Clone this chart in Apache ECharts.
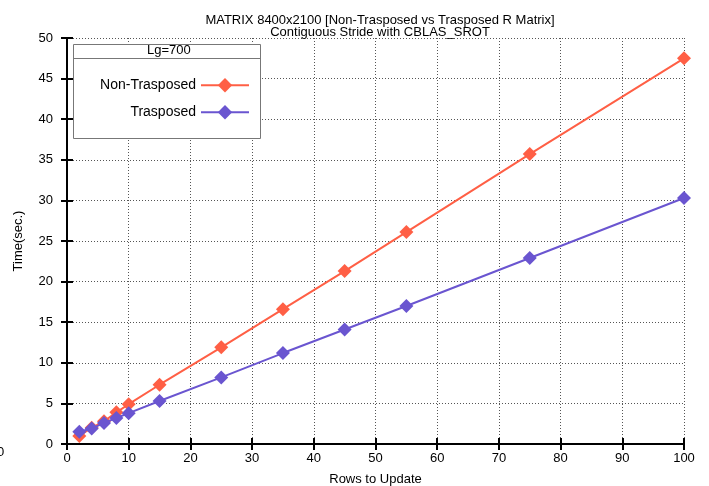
<!DOCTYPE html>
<html>
<head>
<meta charset="utf-8">
<script src="https://cdn.jsdelivr.net/npm/echarts@6/dist/echarts.min.js"></script>
<style>
  html, body { margin: 0; padding: 0; background: #fff; }
  #chart { width: 709px; height: 486px; }
</style>
</head>
<body>
<div id="chart"></div>
<script>
// rows to update (x) and timings in seconds
var rows = [2, 4, 6, 8, 10, 15, 25, 35, 45, 55, 75, 100];
var nonTrasposed = [1.0, 2.0, 2.8, 3.9, 4.9, 7.3, 11.9, 16.6, 21.3, 26.1, 35.7, 47.5];
var trasposed = [1.5, 1.9, 2.6, 3.2, 3.8, 5.3, 8.2, 11.2, 14.1, 17.0, 22.9, 30.3];
var seriesNames = ["Non-Trasposed", "Trasposed"];

var myChart = echarts.init(document.getElementById("chart"));

function pairs(xs, ys) {
  var out = [];
  for (var i = 0; i < xs.length; i++) out.push([xs[i], ys[i]]);
  return out;
}

var font = "Liberation Sans, Arial, sans-serif";

var gridLine = {
  show: true,
  lineStyle: { color: "#555", type: [1, 2], width: 1 }
};

function frameAxis(extra) {
  return Object.assign({
    type: "value",
    axisLine: { show: true, lineStyle: { color: "#000", width: 2 } },
    axisTick: { show: true, inside: true, length: 6, lineStyle: { color: "#000", width: 2 } },
    splitLine: { show: false },
    axisLabel: { show: false }
  }, extra);
}

var option = {
  animation: false,
  title: {
    text: "MATRIX 8400x2100 [Non-Trasposed vs Trasposed R Matrix]\nContiguous Stride with CBLAS_SROT",
    left: 375,
    top: 9,
    textAlign: "center",
    textStyle: { fontFamily: font, fontSize: 13, fontWeight: "normal", color: "#000", lineHeight: 12 }
  },
  grid: { left: 67, right: 25, top: 38, bottom: 42, outerBoundsMode: "none" },
  legend: [
    {
      data: [seriesNames[0]],
      right: 454, top: 73, z: 20,
      align: "right",
      itemWidth: 48, itemHeight: 18,
      textStyle: { fontFamily: font, fontSize: 14, color: "#000" }
    },
    {
      data: [seriesNames[1]],
      right: 454, top: 100, z: 20,
      align: "right",
      itemWidth: 48, itemHeight: 18,
      textStyle: { fontFamily: font, fontSize: 14, color: "#000" }
    }
  ],
  xAxis: [
    {
      type: "value", min: 0, max: 100, interval: 10,
      name: "Rows to Update", nameLocation: "middle", nameGap: 29,
      nameTextStyle: { fontFamily: font, fontSize: 13, color: "#000" },
      axisLine: { show: true, lineStyle: { color: "#000", width: 2 } },
      axisTick: { show: true, inside: true, length: 6, lineStyle: { color: "#000", width: 2 } },
      axisLabel: { color: "#000", fontFamily: font, fontSize: 13, margin: 8 },
      splitLine: gridLine
    },
    frameAxis({ position: "top", min: 0, max: 100, interval: 10 })
  ],
  yAxis: [
    {
      type: "value", min: 0, max: 50, interval: 5,
      name: "Time(sec.)", nameLocation: "middle", nameGap: 42, nameRotate: 90,
      nameTextStyle: { fontFamily: font, fontSize: 13, color: "#000" },
      axisLine: { show: true, lineStyle: { color: "#000", width: 2 } },
      axisTick: { show: true, inside: true, length: 6, lineStyle: { color: "#000", width: 2 } },
      axisLabel: { color: "#000", fontFamily: font, fontSize: 13, margin: 14 },
      splitLine: gridLine
    },
    frameAxis({ position: "right", min: 0, max: 50, interval: 5 })
  ],
  graphic: [
    {
      type: "rect", left: 73, top: 44, z: 10,
      shape: { width: 187, height: 94 },
      style: { fill: "#fff", stroke: "#777", lineWidth: 1 }
    },
    {
      type: "line", z: 11,
      shape: { x1: 73, y1: 58.5, x2: 260, y2: 58.5 },
      style: { stroke: "#777", lineWidth: 1 }
    },
    {
      type: "text", left: 147, top: 44, z: 11,
      style: { text: "Lg=700", fontFamily: font, fontSize: 13, fill: "#000" }
    },
    {
      type: "text", left: -3, top: 446,
      style: { text: "0", fontFamily: font, fontSize: 13, fill: "#000" }
    }
  ],
  series: [
    {
      name: seriesNames[0],
      type: "line",
      data: pairs(rows, nonTrasposed),
      symbol: "diamond", symbolSize: 14,
      itemStyle: { color: "#ff5f45" },
      lineStyle: { color: "#ff5f45", width: 2 },
      z: 3
    },
    {
      name: seriesNames[1],
      type: "line",
      data: pairs(rows, trasposed),
      symbol: "diamond", symbolSize: 14,
      itemStyle: { color: "#6a55d0" },
      lineStyle: { color: "#6a55d0", width: 2 },
      z: 4
    }
  ]
};

myChart.setOption(option);
</script>
</body>
</html>
